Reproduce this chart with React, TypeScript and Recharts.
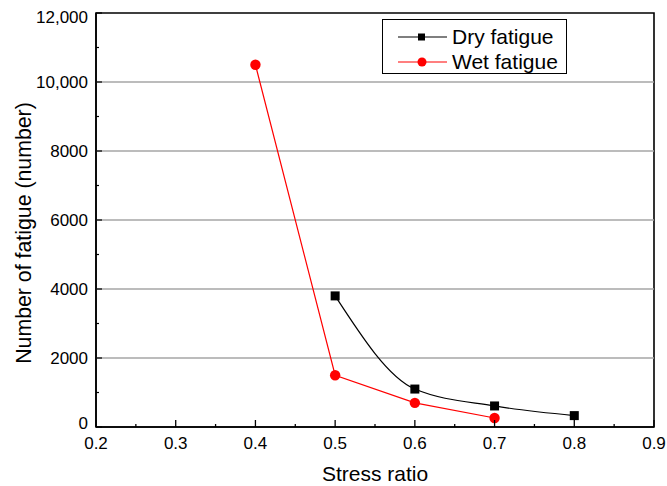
import React from 'react';
import { LineChart, Line, XAxis, YAxis, ReferenceLine, ReferenceArea, Legend, Label } from 'recharts';

const FONT = '"Liberation Sans", Arial, sans-serif';

const seriesNames = ['Dry fatigue', 'Wet fatigue'];
const dryRatio = [0.5, 0.6, 0.7, 0.8];
const dryCycles = [3800, 1100, 610, 330];
const wetRatio = [0.4, 0.5, 0.6, 0.7];
const wetCycles = [10500, 1500, 700, 260];

const xTicks = [0.2, 0.25, 0.3, 0.35, 0.4, 0.45, 0.5, 0.55, 0.6, 0.65, 0.7, 0.75, 0.8, 0.85, 0.9];
const xMajorTicks = [0.2, 0.3, 0.4, 0.5, 0.6, 0.7, 0.8, 0.9];
const yTicks = [0, 1000, 2000, 3000, 4000, 5000, 6000, 7000, 8000, 9000, 10000, 11000, 12000];
const yMajorTicks = [0, 2000, 4000, 6000, 8000, 10000, 12000];
const gridValues = [2000, 4000, 6000, 8000, 10000];
const xDomain = [0.2, 0.9];
const yDomain = [0, 12000];

const dryData = dryRatio.map((r, i) => ({ ratio: r, cycles: dryCycles[i] }));
const wetData = wetRatio.map((r, i) => ({ ratio: r, cycles: wetCycles[i] }));

const isMajorX = (v: number) => xMajorTicks.some((m) => Math.abs(m - v) < 1e-6);
const isMajorY = (v: number) => yMajorTicks.includes(v);
const fmtY = (v: number) => (v >= 10000 ? v.toLocaleString('en-US') : String(v));

const BottomTick = (props: any) => {
  const { x, y, payload } = props;
  const v = payload.value as number;
  const major = isMajorX(v);
  return (
    <g>
      <line x1={x} x2={x} y1={y} y2={y - (major ? 7 : 3)} stroke="#000" strokeWidth={1.3} />
      {major && (
        <text x={x} y={y + 22} textAnchor="middle" fontSize={17} fontFamily={FONT} fill="#000">
          {v.toFixed(1)}
        </text>
      )}
    </g>
  );
};

const TopTick = (props: any) => {
  const { x, y } = props;
  return <line x1={x} x2={x} y1={y} y2={y + 3} stroke="#000" strokeWidth={1.2} />;
};

const LeftTick = (props: any) => {
  const { x, y, payload } = props;
  const v = payload.value as number;
  const major = isMajorY(v);
  let dy = 0;
  if (v === 12000) dy = 4;
  if (v === 0) dy = -4;
  return (
    <g>
      <line x1={x} x2={x + (major ? 6 : 3)} y1={y} y2={y} stroke="#000" strokeWidth={1.2} />
      {major && (
        <text x={x - 8} y={y + dy + 6} textAnchor="end" fontSize={17} fontFamily={FONT} fill="#000">
          {fmtY(v)}
        </text>
      )}
    </g>
  );
};

const RightTick = (props: any) => {
  const { x, y } = props;
  return <line x1={x} x2={x - 3} y1={y} y2={y} stroke="#000" strokeWidth={1.2} />;
};

const SquareDot = (p: any) => (
  <rect key={`sq-${p.index}`} x={p.cx - 4.5} y={p.cy - 4.5} width={9} height={9} fill="#000" />
);
const CircleDot = (p: any) => (
  <circle key={`ci-${p.index}`} cx={p.cx} cy={p.cy} r={5.2} fill="#ff0000" />
);

const renderLegend = () => (
  <div
    style={{
      position: 'relative',
      width: 185,
      height: 55,
      border: '1.2px solid #000',
      boxSizing: 'border-box',
      background: '#fff',
      fontFamily: FONT,
      fontSize: 21,
      color: '#000',
    }}
  >
    {seriesNames.map((name, i) => (
      <div key={name} style={{ position: 'absolute', left: 0, top: i === 0 ? 5 : 30, height: 24, width: 185 }}>
        <svg width={52} height={24} style={{ position: 'absolute', left: 13, top: 0 }}>
          <line x1={2} x2={51} y1={12} y2={12} stroke={i === 0 ? '#000' : '#ff0000'} strokeWidth={1.2} />
          {i === 0 ? (
            <rect x={22} y={8.5} width={7} height={7} fill="#000" />
          ) : (
            <circle cx={26} cy={12} r={4.5} fill="#ff0000" />
          )}
        </svg>
        <span style={{ position: 'absolute', left: 69, top: 0, lineHeight: '24px', whiteSpace: 'nowrap' }}>{name}</span>
      </div>
    ))}
  </div>
);

const YTitle = () => (
  <text
    x={31}
    y={233}
    transform="rotate(-90 31 233)"
    textAnchor="middle"
    fontSize={21.3}
    fontFamily={FONT}
    fill="#000"
  >
    Number of fatigue (number)
  </text>
);

export default function App() {
  return (
    <div style={{ position: 'absolute', left: 0, top: 0, background: '#fff' }}>
      <LineChart width={667} height={486} margin={{ top: 13, right: 13, left: 0, bottom: 0 }}>
        <XAxis
          xAxisId="b"
          dataKey="ratio"
          type="number"
          orientation="bottom"
          domain={xDomain}
          ticks={xTicks}
          interval={0}
          height={59}
          tickSize={0}
          tickMargin={0}
          tickLine={false}
          tick={BottomTick}
          axisLine={{ stroke: '#000', strokeWidth: 1.5 }}
          allowDataOverflow
        >
          <Label value="Stress ratio" position="insideBottom" offset={5} fontSize={21} fontFamily={FONT} fill="#000" />
        </XAxis>
        <XAxis
          xAxisId="t"
          dataKey="ratio"
          type="number"
          orientation="top"
          domain={xDomain}
          ticks={xTicks}
          interval={0}
          height={0}
          tickSize={0}
          tickMargin={0}
          tickLine={false}
          tick={TopTick}
          axisLine={{ stroke: '#000', strokeWidth: 1.5 }}
          allowDataOverflow
        />
        <YAxis
          yAxisId="l"
          type="number"
          orientation="left"
          domain={yDomain}
          ticks={yTicks}
          interval={0}
          width={96}
          tickSize={0}
          tickMargin={0}
          tickLine={false}
          tick={LeftTick}
          axisLine={{ stroke: '#000', strokeWidth: 1.5 }}
          allowDataOverflow
        >
          <Label content={YTitle} />
        </YAxis>
        <YAxis
          yAxisId="r"
          type="number"
          orientation="right"
          domain={yDomain}
          ticks={yTicks}
          interval={0}
          width={0}
          tickSize={0}
          tickMargin={0}
          tickLine={false}
          tick={RightTick}
          axisLine={{ stroke: '#000', strokeWidth: 1.5 }}
          allowDataOverflow
        />
        {gridValues.map((g) => (
          <ReferenceLine key={g} xAxisId="b" yAxisId="l" y={g} stroke="#a6a6a6" strokeWidth={1.3} />
        ))}
        <ReferenceArea
          xAxisId="b"
          yAxisId="l"
          x1={xDomain[0]}
          x2={xDomain[1]}
          y1={yDomain[0]}
          y2={yDomain[1]}
          fill="none"
          fillOpacity={0}
          stroke="#000"
          strokeWidth={1.6}
          strokeOpacity={1}
          ifOverflow="visible"
        />
        <Line
          xAxisId="b"
          yAxisId="l"
          data={dryData}
          dataKey="cycles"
          name={seriesNames[0]}
          type="monotone"
          stroke="#000"
          strokeWidth={1.2}
          dot={SquareDot}
          isAnimationActive={false}
        />
        <Line
          xAxisId="b"
          yAxisId="l"
          data={wetData}
          dataKey="cycles"
          name={seriesNames[1]}
          type="linear"
          stroke="#ff0000"
          strokeWidth={1.2}
          dot={CircleDot}
          isAnimationActive={false}
        />
        <Legend
          layout="horizontal"
          verticalAlign="middle"
          align="center"
          content={renderLegend}
          wrapperStyle={{ position: 'absolute', left: 382, top: 19, width: 185, height: 55 }}
        />
      </LineChart>
    </div>
  );
}
